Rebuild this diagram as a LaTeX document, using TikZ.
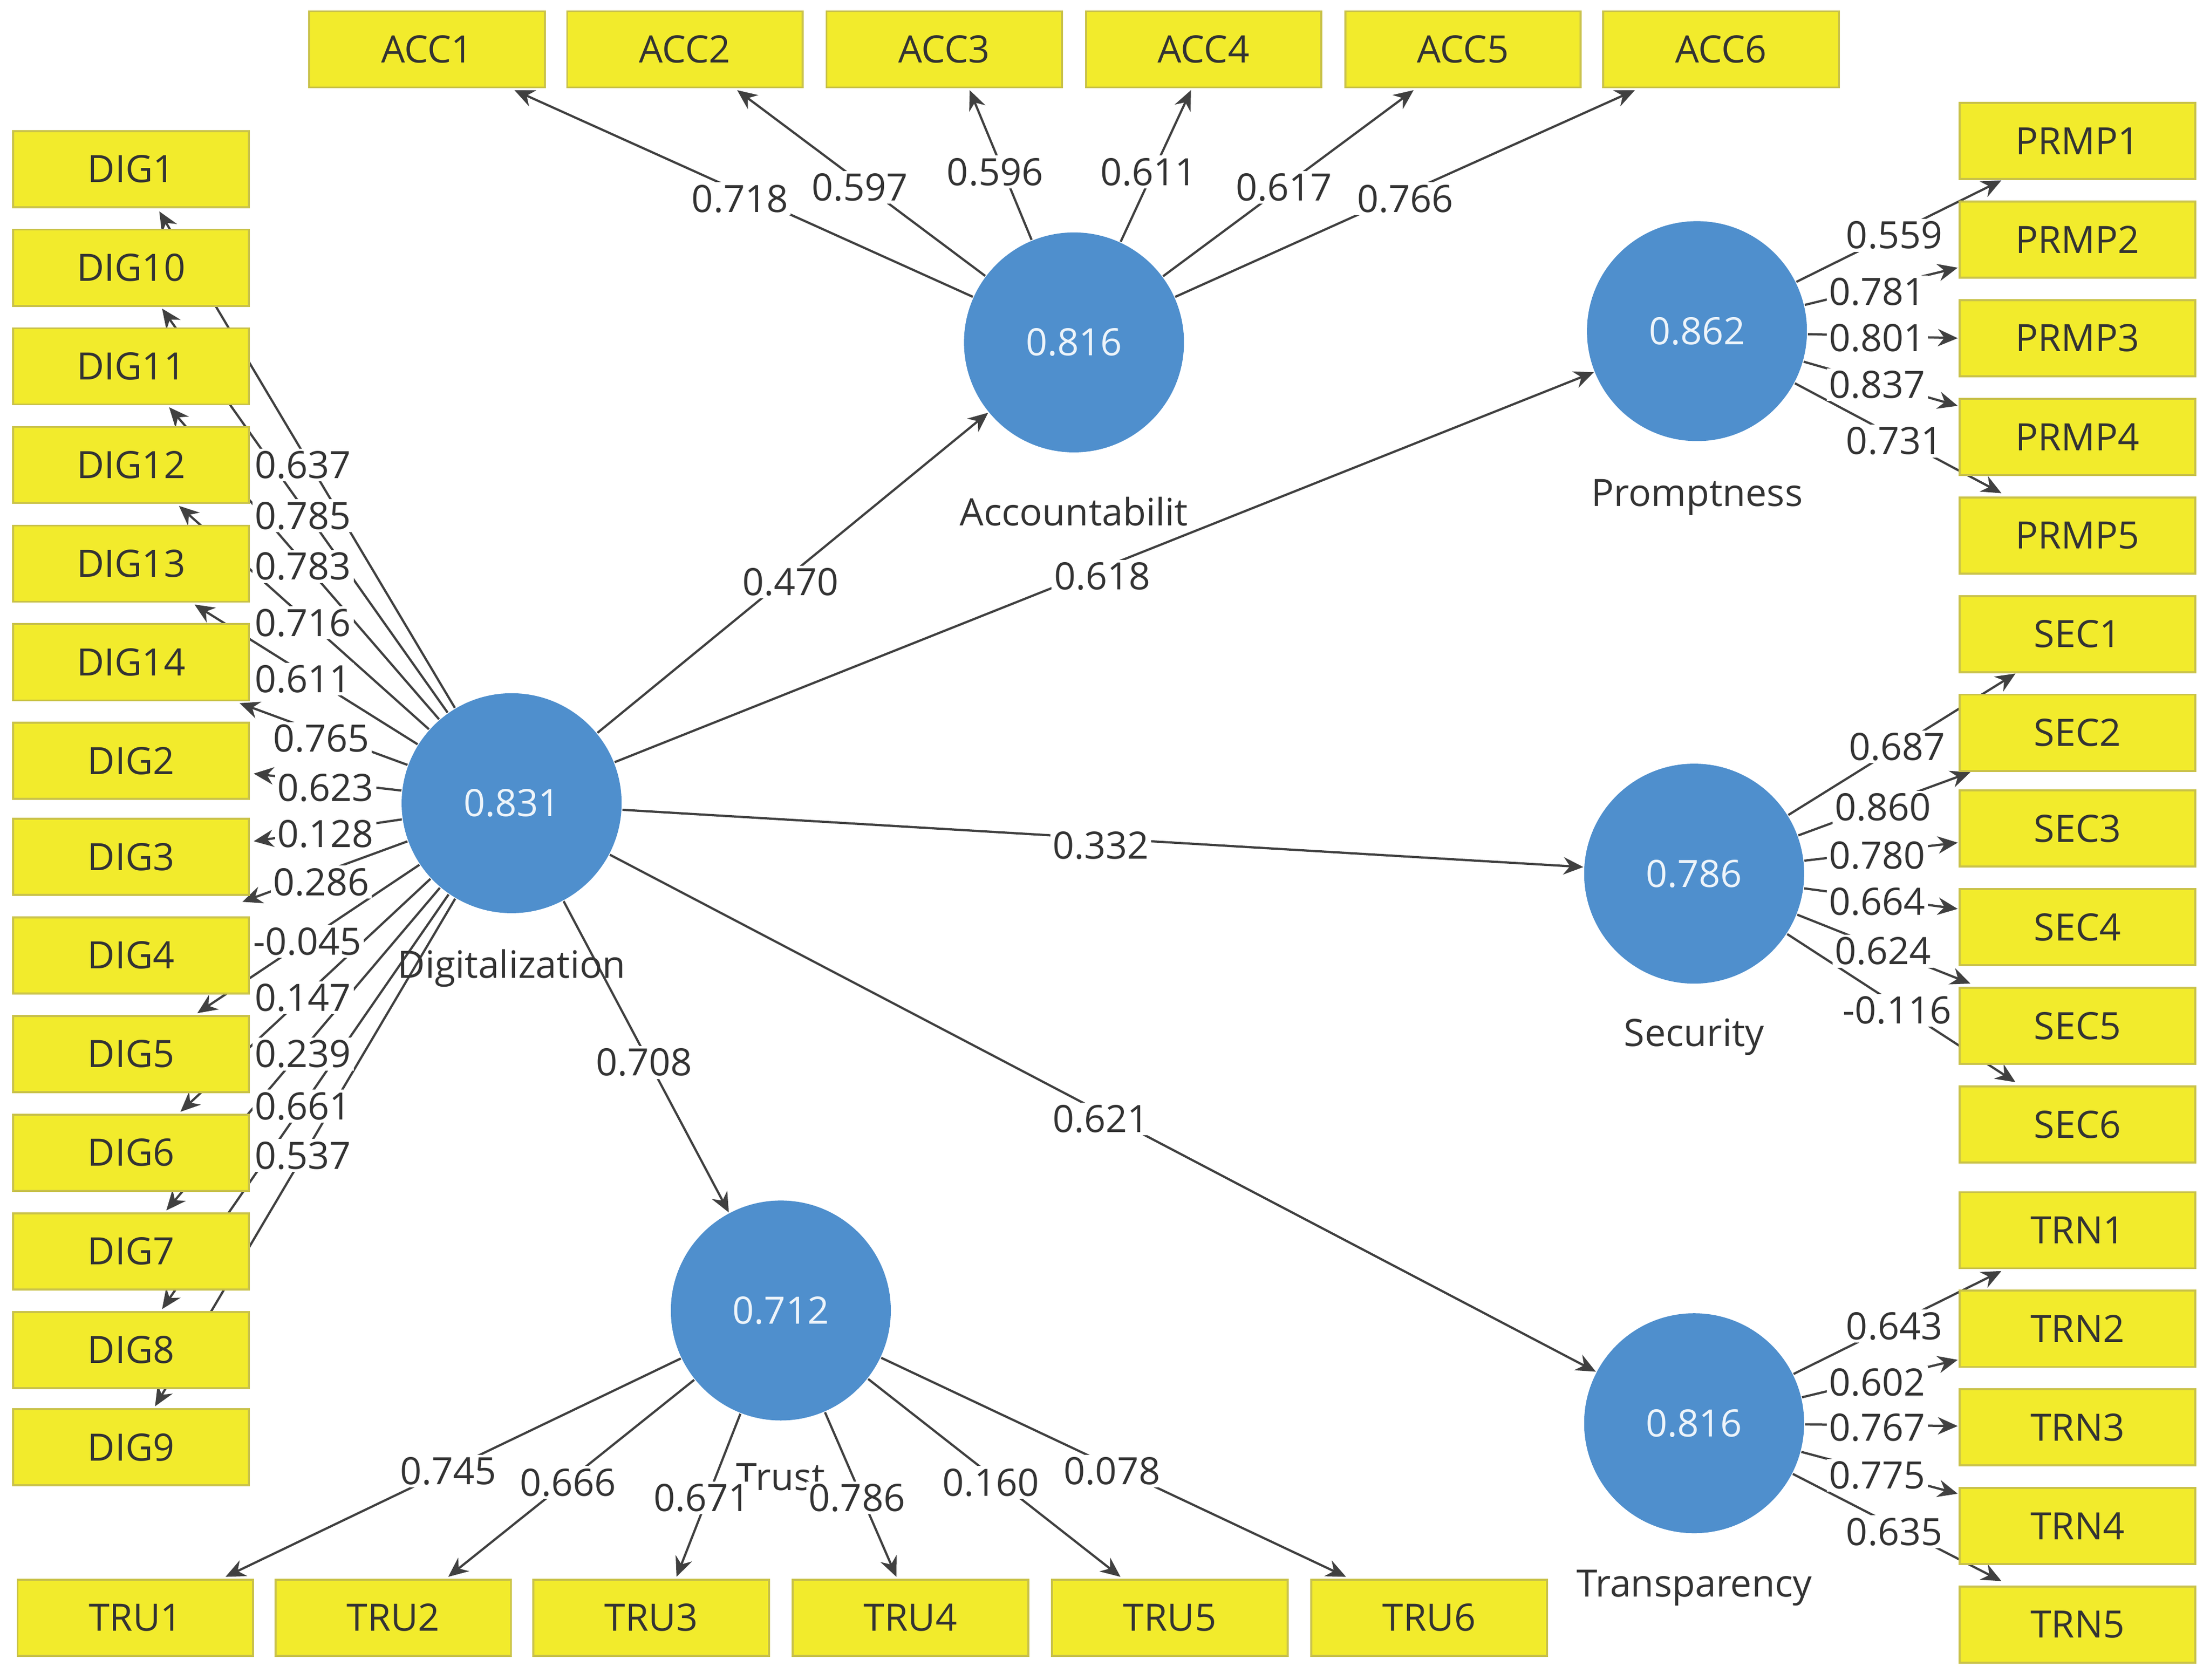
\documentclass[tikz,border=0pt]{standalone}
\usepackage{fontspec}
\setmainfont{Open Sans}
\usetikzlibrary{arrows.meta,backgrounds}
\definecolor{ybox}{HTML}{F2EB2C}
\definecolor{yedge}{HTML}{C9C24A}
\definecolor{lv}{HTML}{4F8FCD}
\begin{document}
\begin{tikzpicture}[x=0.01cm,y=-0.01cm,
 box/.style={draw=yedge,fill=ybox,line width=0.4pt,minimum width=1.67cm,minimum height=0.54cm,inner sep=0pt,font=\fontsize{7.6}{8}\selectfont,text=black!80},
 lvn/.style={circle,fill=lv,minimum size=1.56cm,inner sep=0pt,text=white!90!lv,font=\fontsize{7.6}{8}\selectfont},
 nm/.style={font=\fontsize{7.6}{8}\selectfont,text=black!80},
 lab/.style={fill=white,inner sep=0.5pt,font=\fontsize{7.6}{8}\selectfont,text=black!80},
 arr/.style={draw=black!75,line width=0.45pt,-{Stealth[length=4pt,width=3.5pt]}}]
\useasboundingbox (0,0) rectangle (1568,1192);
% boxes
\foreach \n/\x in {1/303,2/486,3/670,4/854,5/1038,6/1221}{\node[box] (ACC\n) at (\x,35) {ACC\n};}
\foreach \n/\y in {1/120,10/190,11/260,12/330,13/400,14/470,2/540,3/608,4/678,5/748,6/818,7/888,8/958,9/1027}{\node[box] (DIG\n) at (93,\y) {DIG\n};}
\foreach \n/\y in {1/100,2/170,3/240,4/310,5/380}{\node[box] (PRMP\n) at (1474,\y) {PRMP\n};}
\foreach \n/\y in {1/450,2/520,3/588,4/658,5/728,6/798}{\node[box] (SEC\n) at (1474,\y) {SEC\n};}
\foreach \n/\y in {1/873,2/943,3/1013,4/1083,5/1153}{\node[box] (TRN\n) at (1474,\y) {TRN\n};}
\foreach \n/\x in {1/96,2/279,3/462,4/646,5/830,6/1014}{\node[box] (TRU\n) at (\x,1148) {TRU\n};}
% latent
\node[lvn] (D) at (363,570) {0.831};
\node[lvn] (A) at (762,243) {0.816};
\node[lvn] (P) at (1204,235) {0.862};
\node[lvn] (S) at (1202,620) {0.786};
\node[lvn] (T) at (554,930) {0.712};
\node[lvn] (R) at (1202,1010) {0.816};
\node[nm] (Dn) at (363,687) {Digitalization};
\node[nm] (An) at (762,363) {Accountabilit};
\node[nm] (Pn) at (1204,353) {Promptness};
\node[nm] (Sn) at (1202,736) {Security};
\node[nm] (Tn) at (554,1048) {Trust};
\node[nm] (Rn) at (1202,1127) {Transparency};
% coordinates for indicator arrow ends
\foreach \n/\x in {1/365,2/523,3/688,4/845,5/1003,6/1160}{\coordinate (eA\n) at (\x,64);}
\foreach \n/\x/\y in {1/113/150,10/115/219,11/120/289,12/127/359,13/138/429,14/170/499,2/180/549,3/180/597,4/172/640,5/140/719,6/128/789,7/118/859,8/115/929,9/110/998}{\coordinate (eD\n) at (\x,\y);}
\foreach \n/\x/\y in {1/1420/128,2/1389/190,3/1389/240,4/1389/288,5/1420/350}{\coordinate (eP\n) at (\x,\y);}
\foreach \n/\x/\y in {1/1430/478,2/1398/548,3/1389/598,4/1389/645,5/1398/698,6/1430/768}{\coordinate (eS\n) at (\x,\y);}
\foreach \n/\x/\y in {1/1420/902,2/1389/965,3/1389/1012,4/1389/1060,5/1420/1122}{\coordinate (eR\n) at (\x,\y);}
\foreach \n/\x in {1/160,2/318,3/480,4/636,5/795,6/955}{\coordinate (eT\n) at (\x,1119);}
\begin{scope}[on background layer]
\foreach \n in {1,...,6}{\draw[arr] (A) -- (eA\n); \draw[arr] (T) -- (eT\n); \draw[arr] (S) -- (eS\n);}
\foreach \n in {1,...,5}{\draw[arr] (P) -- (eP\n); \draw[arr] (R) -- (eR\n);}
\foreach \n in {1,2,...,14}{\draw[arr] (D) -- (eD\n);}
\draw[arr] (D) -- (A);
\draw[arr] (D) -- (P);
\draw[arr] (D) -- (S);
\draw[arr] (D) -- (T);
\draw[arr] (D) -- (R);
\end{scope}
% labels
\foreach \t/\x/\y in {0.718/525/141,0.597/610/133,0.596/706/122,0.611/815/122,0.617/911/133,0.766/997/141,
0.559/1344/167,0.781/1332/207,0.801/1332/240,0.837/1332/273,0.731/1344/313,
0.687/1346/530,0.860/1336/573,0.780/1332/607,0.664/1332/640,0.624/1336/675,-0.116/1346/717,
0.643/1344/941,0.602/1332/981,0.767/1332/1013,0.775/1332/1047,0.635/1344/1087,
0.745/318/1044,0.666/403/1052,0.671/498/1063,0.786/608/1063,0.160/703/1052,0.078/789/1044,
0.637/215/330,0.785/215/366,0.783/215/402,0.716/215/442,0.611/215/482,0.765/228/524,0.623/231/559,0.128/231/592,0.286/228/626,-0.045/218/668,0.147/215/708,0.239/215/748,0.661/215/785,0.537/215/820,
0.470/561/413,0.618/782/409,0.332/781/600,0.708/457/754,0.621/781/794}{\node[lab] at (\x,\y) {\t};}
\end{tikzpicture}
\end{document}
